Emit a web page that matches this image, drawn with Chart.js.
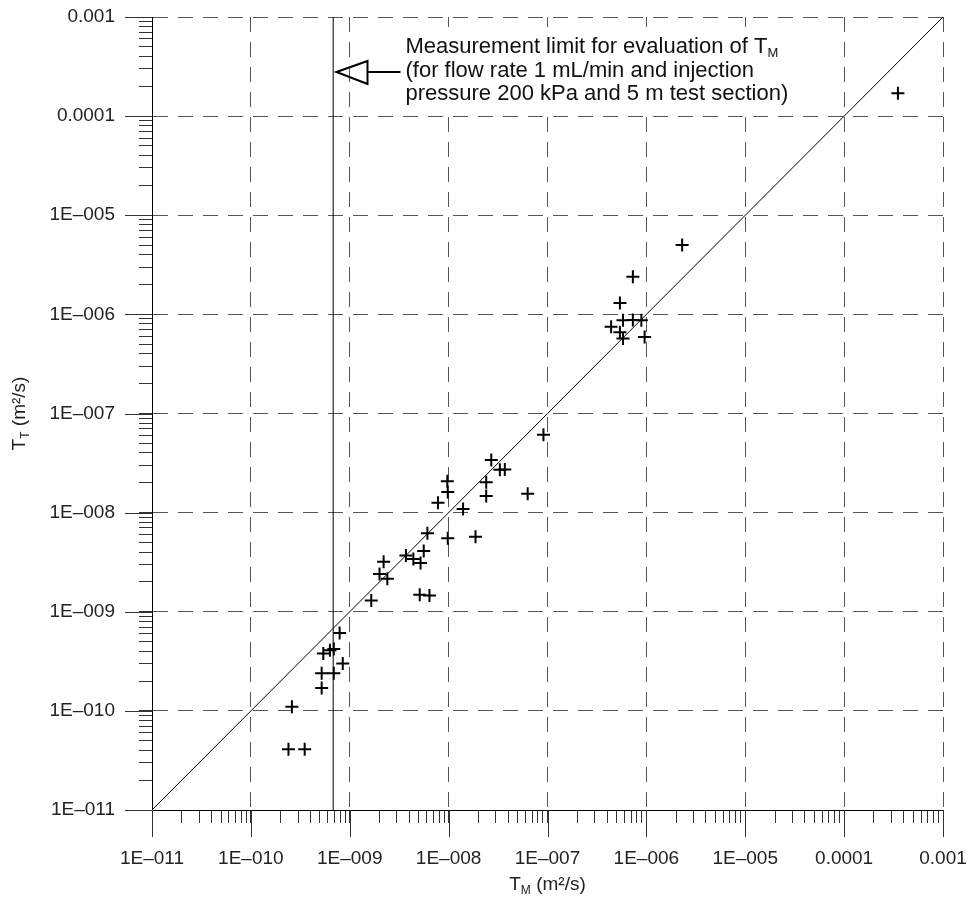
<!DOCTYPE html>
<html>
<head>
<meta charset="utf-8">
<script src="https://cdn.jsdelivr.net/npm/chart.js@4.4.1/dist/chart.umd.min.js"></script>
<style>
  html, body { margin: 0; padding: 0; background: #fff; }
</style>
</head>
<body>
<canvas id="myChart" width="972" height="909"></canvas>
<script>
// measured (T_M) vs theoretical (T_T) transmissivity, m2/s
const tmValues = [
  2.4e-10, 3.5e-10, 2.6e-10, 5.2e-10, 5.2e-10, 6.9e-10, 5.4e-10, 6.3e-10, 6.9e-10, 8.5e-10,
  7.9e-10, 1.65e-9, 2.2e-9, 2.0e-9, 2.4e-9, 5.1e-9, 6.4e-9, 3.7e-9, 4.4e-9, 5.2e-9,
  5.6e-9, 6.1e-9, 9.8e-9, 1.87e-8, 7.8e-9, 1.4e-8, 9.8e-9, 9.7e-9, 2.4e-8, 2.4e-8,
  2.7e-8, 3.3e-8, 3.7e-8, 6.3e-8, 9.1e-8, 5.4e-7, 4.4e-7, 5.4e-7, 5.8e-7, 7.3e-7,
  8.9e-7, 5.8e-7, 9.6e-7, 7.3e-7, 2.3e-6, 3.5e-4
];
const ttValues = [
  4.1e-11, 4.1e-11, 1.1e-10, 1.7e-10, 2.4e-10, 2.4e-10, 3.8e-10, 4.1e-10, 4.2e-10, 3.0e-10,
  6.1e-10, 1.3e-9, 3.2e-9, 2.4e-9, 2.15e-9, 1.48e-9, 1.46e-9, 3.7e-9, 3.4e-9, 3.1e-9,
  4.1e-9, 6.2e-9, 5.5e-9, 5.7e-9, 1.26e-8, 1.09e-8, 1.61e-8, 2.07e-8, 1.47e-8, 2.03e-8,
  3.4e-8, 2.7e-8, 2.73e-8, 1.55e-8, 6.1e-8, 1.3e-6, 7.5e-7, 6.6e-7, 8.7e-7, 8.8e-7,
  8.7e-7, 5.7e-7, 5.9e-7, 2.4e-6, 5.0e-6, 1.7e-4
];
const decadeTicks = [1e-11, 1e-10, 1e-9, 1e-8, 1e-7, 1e-6, 1e-5, 1e-4, 1e-3];
const tickLabels = ['1E\u2013011', '1E\u2013010', '1E\u2013009', '1E\u2013008', '1E\u2013007',
  '1E\u2013006', '1E\u2013005', '0.0001', '0.001'];
const limitTM = 6.8e-10;   // measurement limit for T_M
const oneToOne = [1e-11, 1e-3];

const FONT = "'Liberation Sans', Arial, sans-serif";

function decadeIndex(v) {
  return decadeTicks.findIndex(d => Math.abs(v / d - 1) < 1e-6);
}

function buildLogTicks(scale) {
  const ticks = [];
  decadeTicks.forEach((d, i) => {
    ticks.push({value: d});
    if (i < decadeTicks.length - 1) {
      for (let m = 2; m <= 9; m++) ticks.push({value: d * m});
    }
  });
  scale.ticks = ticks;
}

// draws text pieces, some of them as subscript
function drawParts(ctx, parts, x, y, align) {
  const big = 19, small = 12;
  let total = 0;
  parts.forEach(p => {
    ctx.font = (p.sub ? small : big) + 'px ' + FONT;
    p.w = ctx.measureText(p.t).width;
    total += p.w;
  });
  let cx = align === 'center' ? x - total / 2 : x;
  parts.forEach(p => {
    ctx.font = (p.sub ? small : big) + 'px ' + FONT;
    ctx.fillText(p.t, cx, p.sub ? y + 4 : y);
    cx += p.w;
  });
}

const decor = {
  id: 'decor',
  beforeDatasetsDraw(chart) {
    const {ctx, scales: {x, y}, chartArea} = chart;
    ctx.save();
    ctx.strokeStyle = '#333';
    ctx.lineWidth = 1;
    decadeTicks.forEach(d => {
      const px = Math.round(x.getPixelForValue(d)) + 0.5;
      ctx.beginPath();
      ctx.moveTo(px, chartArea.bottom);
      ctx.lineTo(px, chartArea.bottom + 27);
      ctx.stroke();
      const py = Math.round(y.getPixelForValue(d)) + 0.5;
      ctx.beginPath();
      ctx.moveTo(chartArea.left - 27, py);
      ctx.lineTo(chartArea.left, py);
      ctx.stroke();
    });
    // blank box behind the note
    const lx = x.getPixelForValue(limitTM);
    ctx.fillStyle = '#fff';
    ctx.fillRect(lx + 68, 27, 402, 82);
    ctx.restore();
  },
  afterDraw(chart) {
    const {ctx, scales: {x, y}, chartArea} = chart;
    const lx = Math.round(x.getPixelForValue(limitTM)) + 0.5;
    ctx.save();
    ctx.fillStyle = '#111';
    ctx.textBaseline = 'alphabetic';
    ctx.textAlign = 'left';

    // note + arrow
    const tx = lx + 72;
    const line1 = 'Measurement limit for evaluation of T';
    ctx.font = '22px ' + FONT;
    ctx.fillText(line1, tx, 53);
    const w1 = ctx.measureText(line1).width;
    ctx.font = '13px ' + FONT;
    ctx.fillText('M', tx + w1, 57);
    ctx.font = '22px ' + FONT;
    ctx.fillText('(for flow rate 1 mL/min and injection', tx, 77);
    ctx.fillText('pressure 200 kPa and 5 m test section)', tx, 100);

    ctx.strokeStyle = '#000';
    ctx.lineWidth = 2;
    ctx.beginPath();
    ctx.moveTo(lx + 3, 72);
    ctx.lineTo(lx + 34, 61);
    ctx.lineTo(lx + 34, 84);
    ctx.closePath();
    ctx.moveTo(lx + 34, 72);
    ctx.lineTo(lx + 67, 72);
    ctx.stroke();

    // axis titles
    ctx.fillStyle = '#222';
    drawParts(ctx, [{t: 'T'}, {t: 'M', sub: true}, {t: ' (m\u00b2/s)'}],
      (chartArea.left + chartArea.right) / 2, 890, 'center');
    ctx.translate(25, (chartArea.top + chartArea.bottom) / 2);
    ctx.rotate(-Math.PI / 2);
    drawParts(ctx, [{t: 'T'}, {t: 'T', sub: true}, {t: ' (m\u00b2/s)'}], 0, 0, 'center');
    ctx.restore();
  }
};

function axisOptions(size) {
  return {
    type: 'logarithmic',
    min: 1e-11,
    max: 1e-3,
    afterBuildTicks: buildLogTicks,
    afterFit: s => {
      size(s);
      s.paddingTop = s.paddingBottom = s.paddingLeft = s.paddingRight = 0;
    },
    border: {display: true, color: '#000', width: 1, dash: [15, 10]},
    grid: {
      color: c => decadeIndex(c.tick.value) >= 0 ? '#555' : 'rgba(0,0,0,0)',
      lineWidth: 1,
      drawTicks: true,
      tickLength: 13,
      tickColor: '#333'
    },
    ticks: {
      autoSkip: false,
      maxRotation: 0,
      padding: 24,
      color: '#222',
      font: {family: FONT, size: 19},
      callback: v => {
        const i = decadeIndex(v);
        return i >= 0 ? tickLabels[i] : '';
      }
    }
  };
}

const ctx = document.getElementById('myChart');

const chart = new Chart(ctx, {
  type: 'scatter',
  data: {
    datasets: [{
      label: 'T_T vs T_M',
      data: tmValues.map((v, i) => ({x: v, y: ttValues[i]})),
      pointStyle: 'cross',
      pointRadius: 6.5,
      borderWidth: 2,
      borderColor: '#000',
      backgroundColor: '#000'
    }, {
      label: '1:1',
      data: oneToOne.map(v => ({x: v, y: v})),
      showLine: true,
      pointRadius: 0,
      borderWidth: 1,
      borderColor: '#000'
    }, {
      label: 'limit',
      data: oneToOne.map(v => ({x: limitTM, y: v})),
      showLine: true,
      pointRadius: 0,
      borderWidth: 1,
      borderColor: '#000'
    }]
  },
  options: {
    responsive: false,
    animation: false,
    layout: {padding: {top: 17, right: 29, bottom: 0, left: 0}},
    plugins: {legend: {display: false}, tooltip: {enabled: false}},
    scales: {
      x: axisOptions(s => { s.height = 99; }),
      y: axisOptions(s => { s.width = 152; })
    }
  },
  plugins: [decor]
});
</script>
</body>
</html>
